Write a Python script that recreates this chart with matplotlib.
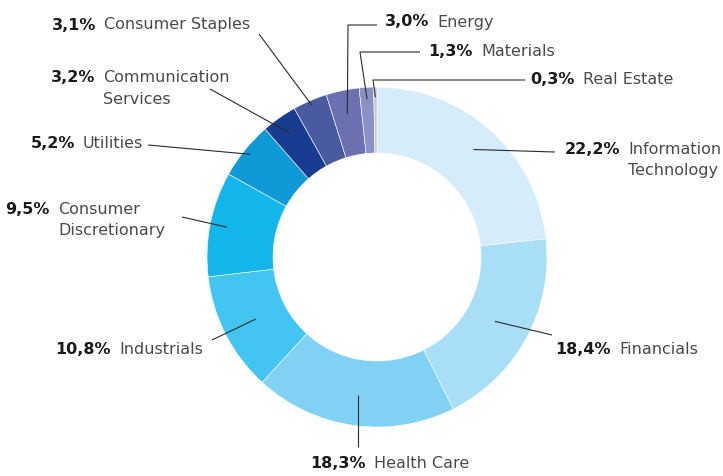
import matplotlib
matplotlib.use("Agg")
import matplotlib.pyplot as plt
import numpy as np

# ---- data ----
categories = ["Information Technology", "Financials", "Health Care", "Industrials",
              "Consumer Discretionary", "Utilities", "Communication Services",
              "Consumer Staples", "Energy", "Materials", "Real Estate"]
label_lines = [["Information", "Technology"], ["Financials"], ["Health Care"], ["Industrials"],
               ["Consumer", "Discretionary"], ["Utilities"], ["Communication", "Services"],
               ["Consumer Staples"], ["Energy"], ["Materials"], ["Real Estate"]]
values = [22.2, 18.4, 18.3, 10.8, 9.5, 5.2, 3.2, 3.1, 3.0, 1.3, 0.3]
colors = ["#d5edfa", "#a8def6", "#80d1f4", "#42c6f1", "#13b6eb", "#0f9ad7",
          "#183c8f", "#4a5aa0", "#6b71b0", "#8b91c5", "#c8c8ca"]

W, H = 723, 476
CX, CY = 377, 257       # centre (pixel coords, y down)
R, RING = 170, 66

# layout: name start x, y (pixel, y down), leader start radius fraction, leader end, optional elbow
layout = [
    dict(nx=628, ny=150, rf=0.85, end=(555, 152)),
    dict(nx=619, ny=349, rf=0.79, end=(552, 335)),
    dict(nx=374, ny=464, rf=0.82, end=(None, 447)),
    dict(nx=119, ny=349, rf=0.80, end=(212, 340)),
    dict(nx=58, ny=209, rf=0.90, end=(182, 217)),
    dict(nx=83, ny=143, rf=0.96, end=(148, 145)),
    dict(nx=103, ny=78, rf=0.89, end=(210, 89)),
    dict(nx=104, ny=25, rf=0.97, end=(259, 34)),
    dict(nx=437, ny=22, rf=0.86, elbow=(348, 25), end=(377, 25)),
    dict(nx=481, ny=52, rf=0.93, elbow=(360, 52), end=(420, 52)),
    dict(nx=583, ny=80, rf=0.94, elbow=(373, 80), end=(525, 80)),
]

fig = plt.figure(figsize=(W / 100, H / 100), dpi=100)
ax = fig.add_axes([0, 0, 1, 1])

def Y(y):
    return H - y

wedges, _ = ax.pie(values, colors=colors, startangle=90, counterclock=False,
                   radius=R, center=(CX, Y(CY)),
                   wedgeprops=dict(width=RING, edgecolor="white", linewidth=0.4))
ax.set_xlim(0, W)
ax.set_ylim(0, H)
ax.set_aspect("equal")
ax.axis("off")

fs = 11.5
line_h = 21
for w, val, lines, lay in zip(wedges, values, label_lines, layout):
    ang = np.deg2rad((w.theta1 + w.theta2) / 2)
    rs = R * lay["rf"]
    sx = CX + rs * np.cos(ang)
    sy = CY - rs * np.sin(ang)
    ex, ey = lay["end"]
    if ex is None:
        ex = sx
    if "elbow" in lay:
        bx, by = lay["elbow"]
        xs, ys = [sx, bx, ex], [sy, by, ey]
    else:
        xs, ys = [sx, ex], [sy, ey]
    ax.plot(xs, [Y(v) for v in ys], color="#2b2b2b", lw=0.8, solid_capstyle="butt")

    pct = f"{val:.1f}".replace(".", ",") + "%"
    ax.text(lay["nx"] - 8, Y(lay["ny"]), pct, ha="right", va="center",
            fontsize=fs, fontweight="bold", color="#1a1a1a")
    for i, ln in enumerate(lines):
        ax.text(lay["nx"], Y(lay["ny"] + i * line_h), ln, ha="left", va="center",
                fontsize=fs, color="#4a4a4a")

fig.savefig("out.png", dpi=100)
